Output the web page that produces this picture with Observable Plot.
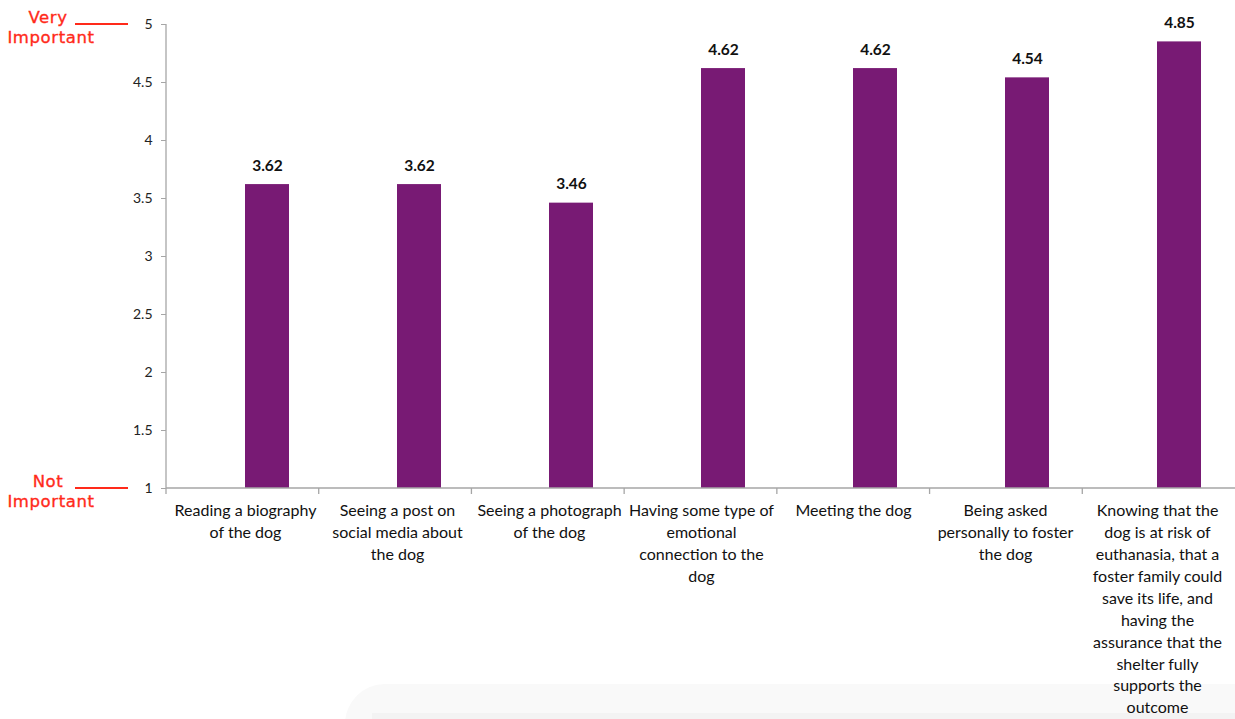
<!DOCTYPE html>
<html>
<head>
<meta charset="utf-8">
<script src="https://cdn.jsdelivr.net/npm/d3@7"></script>
<script src="https://cdn.jsdelivr.net/npm/@observablehq/plot@0.6"></script>
<style>
  html, body { margin: 0; padding: 0; background: #fff; }
  #wrap { position: relative; width: 1235px; height: 719px; overflow: hidden; }
  #shade { position: absolute; left: 345px; top: 684px; width: 900px; height: 40px;
           background: #f9f9f9; border-top-left-radius: 60px; }
  #shade2 { position: absolute; left: 372px; top: 713px; width: 900px; height: 10px; background: #f3f3f3; }
  #chart { position: absolute; left: 0; top: 0; }
</style>
</head>
<body>
<div id="wrap"><div id="shade"></div><div id="shade2"></div><div id="chart"></div></div>
<script>
const categories = [
  "Reading a biography\nof the dog",
  "Seeing a post on\nsocial media about\nthe dog",
  "Seeing a photograph\nof the dog",
  "Having some type of\nemotional\nconnection to the\ndog",
  "Meeting the dog",
  "Being asked\npersonally to foster\nthe dog",
  "Knowing that the\ndog is at risk of\neuthanasia, that a\nfoster family could\nsave its life, and\nhaving the\nassurance that the\nshelter fully\nsupports the\noutcome"
];
const values = [3.62, 3.62, 3.46, 4.62, 4.62, 4.54, 4.85];
const yTicks = [1, 1.5, 2, 2.5, 3, 3.5, 4, 4.5, 5];
const yTickLabels = ["1", "1.5", "2", "2.5", "3", "3.5", "4", "4.5", "5"];
const scaleNotes = [
  {value: 5, lines: ["Very", "Important"]},
  {value: 1, lines: ["Not", "Important"]}
];

const data = categories.map((c, i) => ({cat: c, value: values[i]}));
const FONT = "Lato, 'Open Sans', sans-serif";

const plot = Plot.plot({
  width: 1235,
  height: 719,
  marginLeft: 166,
  marginTop: 24,
  marginBottom: 231,
  marginRight: 0,
  style: {fontFamily: FONT, background: "transparent", color: "#222"},
  x: {domain: categories, padding: 0, axis: null, label: null},
  y: {domain: [1, 5], axis: null, label: null},
  marks: [
    Plot.barY(data, {x: "cat", y1: 1, y2: "value", fill: "#781A74",
      insetLeft: 54, insetRight: 54, dx: 22}),
    Plot.text(data, {x: "cat", y: "value", text: d => d.value.toFixed(2),
      dx: 22, dy: -14, lineAnchor: "bottom", fontWeight: "bold", fontSize: 15.5, fill: "#111"}),
    Plot.axisY({ticks: yTicks, tickFormat: d => yTickLabels[yTicks.indexOf(d)], label: null,
      tickSize: 5, tickPadding: 9, fontSize: 14, stroke: "#a6a6a6", fill: "#222"}),
    Plot.axisX({tickSize: 0, tickPadding: 12, fontSize: 16, lineHeight: 1.37, label: null,
      lineAnchor: "top", fill: "#111"})
  ]
});
document.getElementById("chart").appendChild(plot);

const svg = d3.select(plot);
const x = plot.scale("x"), y = plot.scale("y");
const x0 = x.range[0], x1 = x.range[1];
const step = (x1 - x0) / categories.length;
const g = svg.append("g").attr("stroke", "#a6a6a6").attr("stroke-width", 1.3);
g.append("line").attr("x1", x0).attr("x2", x0).attr("y1", y.apply(5)).attr("y2", y.apply(1));
g.append("line").attr("x1", x0).attr("x2", x1).attr("y1", y.apply(1)).attr("y2", y.apply(1));
categories.forEach((c, i) => {
  const xx = x0 + step * i;
  g.append("line").attr("x1", xx).attr("x2", xx).attr("y1", y.apply(1)).attr("y2", y.apply(1) + 6);
});

const ann = svg.append("g").attr("fill", "#FF2A1A")
  .attr("font-family", "'DejaVu Sans', sans-serif").attr("font-size", 16.5)
  .attr("letter-spacing", 0.6).attr("stroke", "#FF2A1A").attr("stroke-width", 0.35)
  .attr("text-anchor", "middle");
scaleNotes.forEach(n => {
  const yy = y.apply(n.value);
  ann.append("line").attr("x1", x0 - 91).attr("x2", x0 - 38)
    .attr("y1", yy).attr("y2", yy).attr("stroke", "#FF2A1A").attr("stroke-width", 2);
  ann.append("text").attr("x", x0 - 118).attr("y", yy - 1).text(n.lines[0]);
  ann.append("text").attr("x", x0 - 115).attr("y", yy + 18.5).text(n.lines[1]);
});
</script>
</body>
</html>
